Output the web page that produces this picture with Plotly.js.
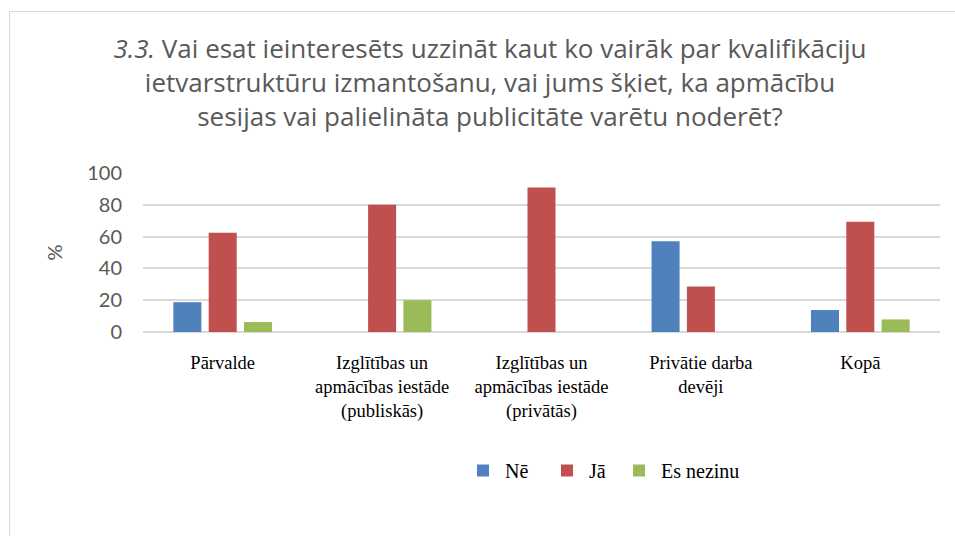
<!DOCTYPE html>
<html>
<head>
<meta charset="utf-8">
<script src="https://cdn.plot.ly/plotly-3.0.1.min.js"></script>
<style>
  html, body { margin: 0; padding: 0; background: #ffffff; overflow: hidden; }
  #wrap { position: relative; width: 955px; height: 536px; }
  #chart { position: absolute; left: 0; top: 0; width: 955px; height: 536px; }
  #frame { position: absolute; left: 9px; top: 11px; width: 960px; height: 540px;
           border: 1px solid #d9d9d9; pointer-events: none; }
</style>
</head>
<body>
<div id="wrap">
  <div id="chart"></div>
  <div id="frame"></div>
</div>
<script>
// ---- data ----
const categories = [
  'Pārvalde',
  'Izglītības un<br>apmācības iestāde<br>(publiskās)',
  'Izglītības un<br>apmācības iestāde<br>(privātās)',
  'Privātie darba<br>devēji',
  'Kopā'
];
const seriesNames = ['Nē', 'Jā', 'Es nezinu'];
const valuesNe = [18.75, 0, 0, 57.1, 13.8];
const valuesJa = [62.5, 80, 90.9, 28.6, 69.4];
const valuesNezinu = [6.25, 20, 0, 0, 7.9];
const yTicks = [0, 20, 40, 60, 80, 100];
const titleText = '<i>3.3.</i> Vai esat ieinteresēts uzzināt kaut ko vairāk par kvalifikāciju<br>ietvarstruktūru izmantošanu, vai jums šķiet, ka apmācību<br>sesijas vai palielināta publicitāte varētu noderēt?';

const colors = ['#4F81BD', '#C0504D', '#9BBB59'];
const seriesValues = [valuesNe, valuesJa, valuesNezinu];
const legendIds = ['legend', 'legend2', 'legend3'];

const traces = seriesNames.map((name, i) => ({
  type: 'bar',
  name: name,
  x: categories,
  y: seriesValues[i],
  legend: legendIds[i],
  marker: { color: colors[i], line: { width: 0 } },
  hoverinfo: 'x+y+name'
}));

// legend placement (pixel left edge of each legend box)
const legendLeftPx = [461, 545, 617];
const legendTopPx = 451;
const plotLeft = 143, plotWidth = 797, plotBottom = 332, plotHeight = 159;
function legendBox(i) {
  return {
    orientation: 'h',
    x: (legendLeftPx[i] - plotLeft) / plotWidth,
    xanchor: 'left',
    y: -(legendTopPx - plotBottom) / plotHeight,
    yanchor: 'top',
    itemwidth: 34,
    font: { family: '"Liberation Serif", "Times New Roman", serif', size: 20, color: '#000000' },
    bgcolor: 'rgba(0,0,0,0)'
  };
}

const layout = {
  width: 955,
  height: 536,
  margin: { l: 143, r: 15, t: 173, b: 204 },
  paper_bgcolor: '#ffffff',
  plot_bgcolor: '#ffffff',
  bargap: 0.335,
  bargroupgap: 0.207,
  title: {
    text: titleText,
    font: { family: '"Open Sans", Lato, sans-serif', size: 26, color: '#595959' },
    x: 490 / 955,
    xref: 'container',
    xanchor: 'center',
    y: 1 - 58 / 536,
    yref: 'container',
    yanchor: 'top'
  },
  xaxis: {
    type: 'category',
    tickfont: { family: '"Liberation Serif", "Times New Roman", serif', size: 18.5, color: '#000000' },
    showgrid: false,
    showline: false,
    zeroline: false,
    ticks: '',
    ticklabelstandoff: 17
  },
  yaxis: {
    range: [0, 100],
    tickvals: yTicks,
    ticktext: yTicks.map(String),
    tickfont: { family: 'Lato, "Open Sans", sans-serif', size: 20, color: '#595959' },
    showgrid: true,
    gridcolor: '#d9d9d9',
    gridwidth: 1.5,
    zeroline: true,
    zerolinecolor: '#d9d9d9',
    zerolinewidth: 1.5,
    showline: false,
    ticks: '',
    ticklabelstandoff: 20,
    title: {
      text: '%',
      font: { family: 'Lato, "Open Sans", sans-serif', size: 20, color: '#595959' },
      standoff: 19
    }
  },
  legend: legendBox(0),
  legend2: legendBox(1),
  legend3: legendBox(2),
  showlegend: true
};

Plotly.newPlot('chart', traces, layout, { displayModeBar: false, responsive: false });
</script>
</body>
</html>
